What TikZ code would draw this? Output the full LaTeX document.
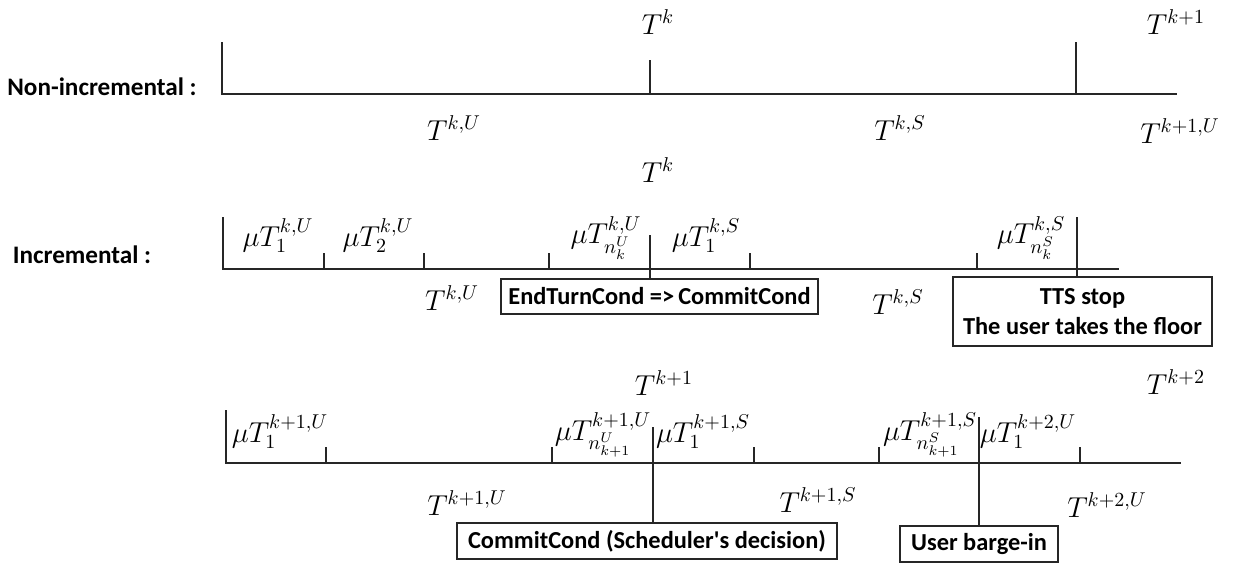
\documentclass[tikz,border=0pt]{standalone}
\usepackage{fontspec}
\newfontfamily\labfont{Carlito}
\begin{document}
\begin{tikzpicture}[x=0.5pt,y=-0.5pt,
  axis/.style={line width=0.8pt,draw=black!85},
  lbl/.style={font=\labfont\bfseries\fontsize{12.6}{15}\selectfont,inner sep=0pt},
  mth/.style={font=\Large,inner sep=0pt},
  cbox/.style={draw=black!85,line width=0.7pt,font=\labfont\bfseries\fontsize{12.2}{15}\selectfont,inner sep=1pt,align=center}]
\useasboundingbox[fill=white] (0,0) rectangle (1241,564);

% ---------------- Non-incremental ----------------
\node[lbl] (nonlbl) at (102,87) {Non-incremental :};
\coordinate (a0) at (222,94);
\coordinate (a1) at (1177,94);
\coordinate (at0) at (222,42);
\coordinate (at1) at (650,60);
\coordinate (at1b) at (650,94);
\coordinate (at2) at (1076,42);
\coordinate (at2b) at (1076,94);
\draw[axis] (at0) -- (a0) -- (a1);
\draw[axis] (at1) -- (at1b);
\draw[axis] (at2) -- (at2b);
\node[mth] (aTk) at (658,22) {$T^{k}$};
\node[mth] (aTk1) at (1176,22) {$T^{k+1}$};
\node[mth] (aTkU) at (454,128) {$T^{k,U}$};
\node[mth] (aTkS) at (900,128) {$T^{k,S}$};
\node[mth] (aTk1U) at (1180,131) {$T^{k+1,U}$};

% ---------------- Incremental ----------------
\node[lbl] (inclbl) at (82,255) {Incremental :};
\node[mth] (bTk) at (658,170) {$T^{k}$};
\coordinate (b0) at (223,269);
\coordinate (b1) at (1119,269);
\coordinate (bt0) at (223,217);
\draw[axis] (bt0) -- (b0) -- (b1);
\foreach \xx in {324,424,549,750,977}{
  \draw[axis] (\xx,253) -- (\xx,269);
}
\node[cbox,minimum width=158.5pt,minimum height=17.5pt] (etc) at (659.5,296.5) {EndTurnCond =>\,CommitCond};
\node[cbox,minimum width=129.5pt,minimum height=34.5pt] (tts) at (1082.5,311.5) {TTS stop\\The user takes the floor};
\coordinate (btk) at (650,235);
\coordinate (btl) at (1077,217);
\draw[axis] (btk) -- (btk |- etc.north);
\draw[axis] (btl) -- (btl |- tts.north);
\node[mth] (bm1) at (278,236) {$\mu T^{k,U}_{1}$};
\node[mth] (bm2) at (378,236) {$\mu T^{k,U}_{2}$};
\node[mth] (bmn) at (606,238) {$\mu T^{k,U}_{n^U_k}$};
\node[mth] (bs1) at (706,236) {$\mu T^{k,S}_{1}$};
\node[mth] (bsn) at (1031,238) {$\mu T^{k,S}_{n^S_k}$};
\node[mth] (bTkU) at (452,298) {$T^{k,U}$};
\node[mth] (bTkS) at (898,302) {$T^{k,S}$};

% ---------------- Bottom ----------------
\node[mth] (cTk1) at (664,383) {$T^{k+1}$};
\node[mth] (cTk2) at (1176,382) {$T^{k+2}$};
\coordinate (c0) at (226,463);
\coordinate (c1) at (1181,463);
\coordinate (ct0) at (226,410);
\draw[axis] (ct0) -- (c0) -- (c1);
\foreach \xx in {326,552,754,879,1080}{
  \draw[axis] (\xx,447) -- (\xx,463);
}
\node[cbox,minimum width=190pt,minimum height=18pt] (cc) at (647,541) {CommitCond (Scheduler's decision)};
\node[cbox,minimum width=79pt,minimum height=18pt] (ub) at (979,544) {User barge-in};
\coordinate (ctk) at (653,427);
\coordinate (ctl) at (979,417);
\draw[axis] (ctk) -- (ctk |- cc.north);
\draw[axis] (ctl) -- (ub.north);
\node[mth] (cm1) at (280,432) {$\mu T^{k+1,U}_{1}$};
\node[mth] (cmn) at (603,435) {$\mu T^{k+1,U}_{n^U_{k+1}}$};
\node[mth] (cs1) at (703,432) {$\mu T^{k+1,S}_{1}$};
\node[mth] (csn) at (930,435) {$\mu T^{k+1,S}_{n^S_{k+1}}$};
\node[mth] (cu1) at (1028,432) {$\mu T^{k+2,U}_{1}$};
\node[mth] (cTk1U) at (467,503) {$T^{k+1,U}$};
\node[mth] (cTk1S) at (818,500) {$T^{k+1,S}$};
\node[mth] (cTk2U) at (1107,505) {$T^{k+2,U}$};
\end{tikzpicture}
\end{document}
